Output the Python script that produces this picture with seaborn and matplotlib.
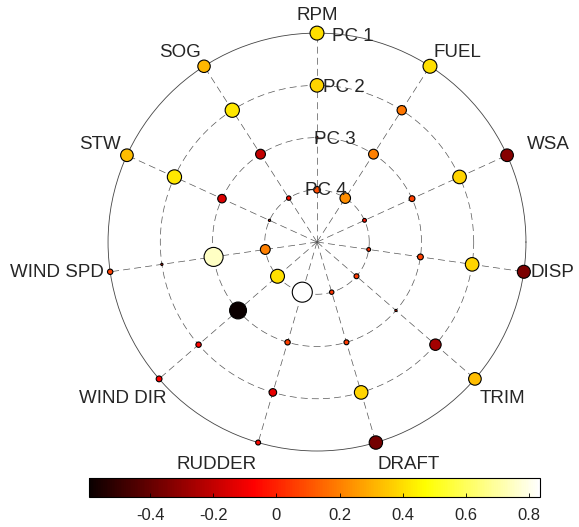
import matplotlib
matplotlib.use('Agg')
import matplotlib.pyplot as plt
import numpy as np
import pandas as pd
import seaborn as sns

variables = ['RPM', 'FUEL', 'WSA', 'DISP', 'TRIM', 'DRAFT', 'RUDDER',
             'WIND DIR', 'WIND SPD', 'STW', 'SOG']
pc1 = [0.40, 0.40, -0.33, -0.35, 0.33, -0.37, -0.05, -0.07, 0.06, 0.33, 0.32]
pc2 = [0.38, 0.18, 0.38, 0.38, -0.27, 0.38, -0.12, -0.06, -0.01, 0.42, 0.42]
pc3 = [0.01, 0.20, 0.07, 0.07, 0.01, 0.05, 0.06, -0.59, 0.75, -0.15, -0.20]
pc4 = [0.09, 0.23, -0.03, 0.03, 0.05, 0.04, 0.83, 0.40, 0.20, 0.01, -0.04]
pc_names = ['PC 1', 'PC 2', 'PC 3', 'PC 4']
cbar_ticks = [-0.4, -0.2, 0, 0.2, 0.4, 0.6, 0.8]
vmin, vmax = -0.594, 0.835

plt.rcParams['font.family'] = ['Liberation Sans', 'DejaVu Sans']
plt.rcParams['axes.unicode_minus'] = False
plt.rcParams['lines.scale_dashes'] = False
txt_color = '#262626'

n = len(variables)
angles = np.pi / 2 - np.arange(n) * 2 * np.pi / n

rows = []
for k, vals in enumerate([pc1, pc2, pc3, pc4]):
    for i in range(n):
        rows.append({'theta': angles[i], 'r': 4 - k, 'value': vals[i],
                     'mag': abs(vals[i])})
df = pd.DataFrame(rows)

fig = plt.figure(figsize=(5.79, 5.27), dpi=100)
ax = fig.add_axes([0.1865, 0.1442, 0.722, 0.793], projection='polar')
ax.set_ylim(0, 4)
ax.grid(False)
ax.set_xticks([])
ax.set_yticks([])
ax.spines['polar'].set_color('#444444')
ax.spines['polar'].set_linewidth(0.6)

# rings and spokes
full = np.linspace(0, 2 * np.pi, 500)
for r in [1, 2, 3]:
    ax.plot(full, np.full_like(full, r), color='#555555', lw=0.5,
            ls=(0, (5, 3)), zorder=1)
for a in angles:
    ax.plot([a, a], [0, 4], color='#555555', lw=0.5, ls=(0, (5, 3)), zorder=1)

sns.scatterplot(data=df, x='theta', y='r', hue='value', palette='hot',
                hue_norm=(vmin, vmax), size='mag', sizes=(0, 209),
                size_norm=(0, 0.835), edgecolor='black', linewidth=0.8,
                legend=False, clip_on=False, zorder=3, ax=ax)
ax.set_xlabel('')
ax.set_ylabel('')

# variable labels (small nudges in points)
nudge = {'WSA': (10, 0), 'WIND DIR': (9, 0), 'RPM': (0, -5)}
for a, name in zip(angles, variables):
    c, s = np.cos(a), np.sin(a)
    ha = 'center' if abs(c) < 0.1 else ('left' if c > 0 else 'right')
    if abs(s) < 0.2:
        va = 'center'
    else:
        va = 'bottom' if s > 0 else 'top'
    dx, dy = nudge.get(name, (0, 0))
    if va == 'top':
        dy -= 5
    rr = 4.3 if abs(c) < 0.1 else 4.12
    ax.annotate(name, xy=(a, rr), xytext=(dx, dy), textcoords='offset points',
                ha=ha, va=va, fontsize=13.5, color=txt_color,
                annotation_clip=False)

for k, name in enumerate(pc_names):
    ax.text(np.deg2rad(80), 4 - k, name, ha='center', va='center',
            fontsize=13.5, color=txt_color, zorder=4)

# colorbar
cax = fig.add_axes([0.1537, 0.0569, 0.779, 0.036])
sm = plt.cm.ScalarMappable(cmap='hot', norm=plt.Normalize(vmin, vmax))
cb = fig.colorbar(sm, cax=cax, orientation='horizontal')
cb.set_ticks(cbar_ticks)
cb.set_ticklabels(['%g' % t for t in cbar_ticks])
cb.outline.set_linewidth(0.8)
cax.tick_params(direction='in', length=3, width=0.6, labelsize=12,
                labelcolor=txt_color, pad=8)

fig.savefig('out.png', dpi=100)
